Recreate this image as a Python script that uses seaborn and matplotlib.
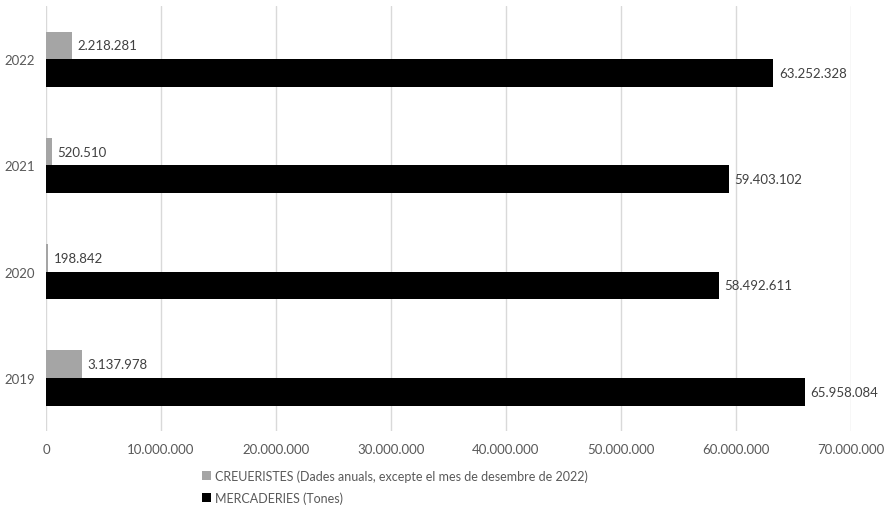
import pandas as pd
import matplotlib.pyplot as plt
import matplotlib.ticker as mtick
from matplotlib.patches import Patch
import seaborn as sns

# data
years = ['2022', '2021', '2020', '2019']
creueristes = [2218281, 520510, 198842, 3137978]
mercaderies = [63252328, 59403102, 58492611, 65958084]
series_names = ['CREUERISTES (Dades anuals, excepte el mes de desembre de 2022)',
                'MERCADERIES (Tones)']
colors = ['#a5a5a5', '#000000']
x_ticks = [0, 10000000, 20000000, 30000000, 40000000, 50000000, 60000000, 70000000]

df = pd.DataFrame({
    'Any': years * 2,
    'Valor': creueristes + mercaderies,
    'Serie': [series_names[0]] * 4 + [series_names[1]] * 4,
})

def dots(v):
    return f'{int(round(v)):,}'.replace(',', '.')

sns.set_theme(style='white')
plt.rcParams['font.family'] = ['Lato', 'DejaVu Sans']
text_color = '#595959'

fig = plt.figure(figsize=(8.91, 5.06), dpi=100)
ax = fig.add_axes([46 / 891, 74 / 506, 805 / 891, 425 / 506])

sns.barplot(data=df, y='Any', x='Valor', hue='Serie', order=years,
            hue_order=series_names, palette=colors, orient='h',
            width=0.52, saturation=1, legend=False, linewidth=0, ax=ax)

# value labels
for cont, vals in zip(ax.containers, [creueristes, mercaderies]):
    ax.bar_label(cont, labels=[dots(v) for v in vals], padding=4,
                 fontsize=9.5, color='#404040')

ax.set_xlim(0, 70000000)
ax.set_xticks(x_ticks)
ax.xaxis.set_major_formatter(mtick.FuncFormatter(lambda v, p: dots(v)))
ax.grid(axis='x', color='#d9d9d9', linewidth=1)
ax.set_axisbelow(True)
for s in ax.spines.values():
    s.set_visible(False)
ax.tick_params(length=0, labelsize=9.5, labelcolor=text_color)
ax.tick_params(axis='x', pad=9)
ax.tick_params(axis='y', pad=8)
ax.set_xlabel('')
ax.set_ylabel('')

handles = [Patch(facecolor=c, edgecolor='none') for c in colors]
fig.legend(handles, series_names, loc='upper left',
           bbox_to_anchor=(196 / 891, 1 - 464 / 506), frameon=False,
           fontsize=9, labelcolor=text_color, handlelength=0.7, handleheight=0.7,
           handletextpad=0.3, labelspacing=0.75, borderpad=0)

plt.savefig('out.png', dpi=100)
